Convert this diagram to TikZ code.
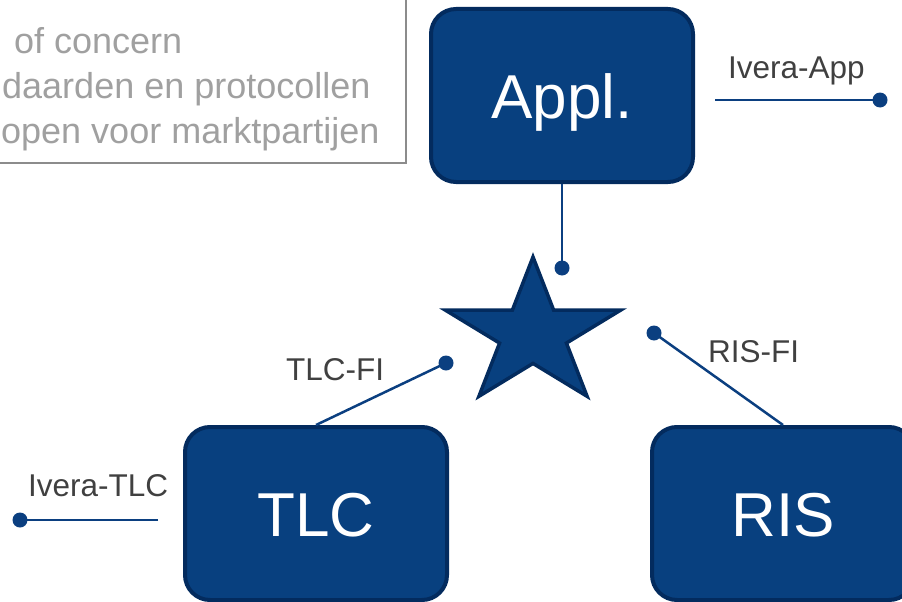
\documentclass[tikz,border=0pt]{standalone}
\usepackage{fontspec}
\setmainfont{Liberation Sans}
\usetikzlibrary{positioning}
\definecolor{boxblue}{HTML}{08407F}
\definecolor{boxrim}{HTML}{032B5E}
\definecolor{wireblue}{HTML}{0B3F80}
\definecolor{labelgray}{HTML}{404040}
\definecolor{notegray}{HTML}{A0A0A0}
\definecolor{noterim}{HTML}{8C8C8C}
\providecommand{\boxfont}{\fontsize{62pt}{70pt}\selectfont}
\providecommand{\labelfont}{\fontsize{31.5pt}{36pt}\selectfont}
\providecommand{\notefont}{\fontsize{36pt}{45pt}\selectfont}

\begin{document}
\begin{tikzpicture}[x=1pt,y=-1pt,
    block/.style={draw=boxrim,fill=boxblue,line width=4pt,rounded corners=25pt,
      minimum width=262pt,minimum height=173pt,inner sep=0pt,
      text=white,font=\boxfont,text height=45pt,text depth=0pt},
    wire/.style={draw=wireblue,line width=2.5pt},
    dot/.style={fill=wireblue},
    tag/.style={anchor=base west,inner sep=0pt,text=labelgray,font=\labelfont},
    note/.style={anchor=base west,inner sep=0pt,text=notegray,font=\notefont}]
    \pgfmathsetmacro{\starx}{533}
    \pgfmathsetmacro{\stary}{334}
    \pgfmathsetmacro{\starrx}{92}
    \pgfmathsetmacro{\starry}{77}
    \pgfmathsetmacro{\starratio}{0.382}
    \useasboundingbox (0,0) rectangle (902,602);
    \clip (0,0) rectangle (902,602);
    % note box, cut by the page
    \draw[draw=noterim,line width=1.5pt] (-20,-20) rectangle (406,163);
    \node[note] (note1) at (14,53) {of concern};
    \node[note] (note2) at (2,99) {daarden en protocollen};
    \node[note] (note3) at (1,143) {open voor marktpartijen};
    % blocks
    \node[block] (appl) at (562,95.5) {Appl.};
    \node[block] (tlc) at (316,513.5) {TLC};
    \node[block] (ris) at (783,513.5) {RIS};
    % star
    \coordinate (hub) at (\starx,\stary);
    \draw[draw=boxrim,fill=boxblue,line width=3.5pt,line join=miter]
      (\starx,\stary-\starry)
      \foreach \a in {90,162,234,306,378} {
        -- ({\starx+\starratio*\starrx*cos(\a+36)},{\stary-\starratio*\starry*sin(\a+36)})
        -- ({\starx+\starrx*cos(\a+72)},{\stary-\starry*sin(\a+72)})
      } -- cycle;
    % connector ends
    \coordinate (applend) at (562,268);
    \coordinate (tlcend) at (446,363);
    \coordinate (risend) at (654,333);
    \coordinate (appstart) at (715,100);
    \coordinate (append) at (880,100);
    \coordinate (tlcstart) at (158,520);
    \coordinate (tlcfree) at (20,520);
    \draw[wire] (appl.south) -- (applend);
    \draw[wire] (tlc.north) -- (tlcend);
    \draw[wire] (ris.north) -- (risend);
    \draw[wire] (appstart) -- (append);
    \draw[wire] (tlcstart) -- (tlcfree);
    \foreach \p in {applend,tlcend,risend,append,tlcfree}
      \fill[dot] (\p) circle[radius=7.5pt];
    % labels
    \node[tag] (appname) at (728,78) {Ivera-App};
    \node[tag] (tlcfi) at (286,380) {TLC-FI};
    \node[tag] (risfi) at (708,362) {RIS-FI};
    \node[tag] (tlcname) at (28,496) {Ivera-TLC};
\end{tikzpicture}
\end{document}
